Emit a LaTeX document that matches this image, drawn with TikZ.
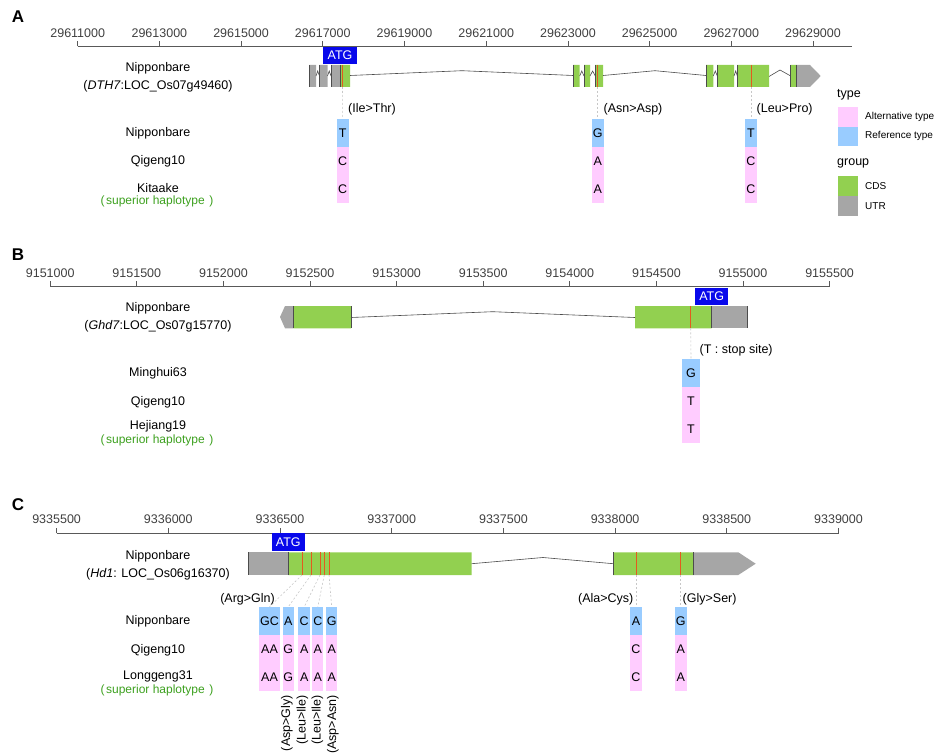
\documentclass[tikz,border=0pt]{standalone}
\usepackage{fontspec}
\setmainfont{Liberation Sans}
\usetikzlibrary{positioning}
\definecolor{cdsgreen}{RGB}{146,208,80}
\definecolor{utrgray}{RGB}{166,166,166}
\definecolor{altpink}{RGB}{255,204,255}
\definecolor{refblue}{RGB}{153,204,255}
\definecolor{snpred}{RGB}{228,90,30}
\definecolor{atgblue}{RGB}{8,8,235}
\definecolor{supgreen}{RGB}{60,160,30}
\newcommand\suphap{(\hspace{1.5pt}superior haplotype\hspace{4.5pt})}
\begin{document}
\begin{tikzpicture}[x=1pt,y=-1pt,font=\fontsize{12.5}{15}\selectfont,
    axisline/.style={black!65,line width=0.8pt},
    ticklbl/.style={text=black!75,inner sep=0,above=3pt},
    intron/.style={black!70,line width=0.6pt},
    bound/.style={black!70,line width=0.9pt},
    snp/.style={snpred,line width=0.9pt},
    guide/.style={black!22,dash pattern=on 2pt off 2pt,line width=0.6pt},
    refbox/.style={fill=refblue,minimum width=12pt,minimum height=28pt,inner sep=0},
    altbox/.style={fill=altpink,minimum width=12pt,minimum height=28pt,inner sep=0},
    atgbox/.style={fill=atgblue,text=white,minimum width=33.5pt,minimum height=17.5pt,inner sep=0},
    rowlbl/.style={inner sep=0},
    genelbl/.style={inner sep=0,align=center,font=\fontsize{12.5}{18}\selectfont},
    suplbl/.style={inner sep=0,text=supgreen,font=\fontsize{12}{14}\selectfont},
    aalbl/.style={inner sep=0},
    panel/.style={inner sep=0,font=\fontsize{17}{20}\selectfont\bfseries},
    legtitle/.style={inner sep=0,anchor=west},
    legkey/.style={minimum width=20pt,minimum height=19.5pt,inner sep=0},
    legtext/.style={inner sep=0,anchor=west,font=\fontsize{10}{12}\selectfont}]
  \useasboundingbox (0,0) rectangle (936,754);

  % panel A
  \node[panel] (A) at (18,17) {A};
  \draw[axisline] (77.7,46.3) -- (852,46.3);
  \foreach \v [count=\i from 0] in {29611000,29613000,29615000,29617000,29619000,29621000,29623000,29625000,29627000,29629000}
    \draw[axisline] (77.7+81.7*\i,46.3) -- (77.7+81.7*\i,40.7) node[ticklbl] (tA\i) {\v};
  \fill[utrgray] (309.5,65) rectangle (316,87) (319.5,65) rectangle (327.5,87) (331,65) rectangle (340,87);
  \fill[cdsgreen] (340,65) rectangle (350,87)
    (573.3,65) rectangle (579.7,87) (584,65) rectangle (590,87) (595.3,65) rectangle (603,87)
    (706,65) rectangle (713.3,87) (717.3,65) rectangle (734,87) (737.3,65) rectangle (769,87)
    (790.7,65) rectangle (796,87);
  \fill[utrgray] (796,65) -- (810,65) -- (820.7,76) -- (810,87) -- (796,87) -- cycle;
  \draw[intron] (316,76) -- (317.7,71) -- (319.5,76) (327.5,76) -- (329.2,71) -- (331,76)
    (350,75.5) -- (462,70.7) -- (573.3,75.5)
    (579.7,76) -- (581.8,71) -- (584,76) (590,76) -- (592.6,71) -- (595.3,76)
    (603,75.5) -- (655,70.7) -- (706,75.5)
    (713.3,76) -- (715.3,71) -- (717.3,76) (734,76) -- (735.7,71) -- (737.3,76)
    (769,76.5) -- (780,70) -- (790.7,76);
  \foreach \x in {309.5,319.5,331,340,573.3,584,595.3,706,717.3,737.3,790.7,796}
    \draw[bound] (\x,65) -- (\x,87);
  \foreach \x in {342.5,597.7,751}
    \draw[snp] (\x,65) -- (\x,87);
  \node[atgbox] (atgA) at (340,55.5) {ATG};
  \node[genelbl] (geneA) at (158,77) {Nipponbare\\(\textit{DTH7}:LOC\_Os07g49460)};

  \node[rowlbl] (rA1) at (158,133) {Nipponbare};
  \node[rowlbl] (rA2) at (158,161.5) {Qigeng10};
  \node[rowlbl] (rA3) at (158,188) {Kitaake};
  \node[suplbl] (rA3s) at (157,201.5) {\suphap};

  \node[refbox] (a1r) at (342.7,133) {T};
  \node[altbox] (a1q) at (342.7,161) {C};
  \node[altbox] (a1k) at (342.7,189) {C};
  \node[refbox] (a2r) at (597.7,133) {G};
  \node[altbox] (a2q) at (597.7,161) {A};
  \node[altbox] (a2k) at (597.7,189) {A};
  \node[refbox] (a3r) at (751,133) {T};
  \node[altbox] (a3q) at (751,161) {C};
  \node[altbox] (a3k) at (751,189) {C};
  \coordinate (sA1) at (342.5,87);
  \coordinate (sA2) at (597.7,87);
  \coordinate (sA3) at (751,87);
  \draw[guide] (sA1) -- (a1r.north);
  \draw[guide] (sA2) -- (a2r.north);
  \draw[guide] (sA3) -- (a3r.north);
  \node[aalbl,anchor=west] (lA1) at (348,109.5) {(Ile>Thr)};
  \node[aalbl,anchor=west] (lA2) at (603.5,109.5) {(Asn>Asp)};
  \node[aalbl,anchor=west] (lA3) at (756.5,109.5) {(Leu>Pro)};

  % legend
  \node[legtitle] (legtype) at (837,95) {type};
  \node[legkey,fill=altpink] (kalt) at (848,116.8) {};
  \node[legkey,fill=refblue,below=0pt of kalt] (kref) {};
  \node[legtext] (talt) at (865,116.8) {Alternative type};
  \node[legtext] (tref) at (865,136.3) {Reference type};
  \node[legtitle] (leggroup) at (837,163.5) {group};
  \node[legkey,fill=cdsgreen] (kcds) at (848,186.2) {};
  \node[legkey,fill=utrgray,below=0pt of kcds] (kutr) {};
  \node[legtext] (tcds) at (865,186.5) {CDS};
  \node[legtext] (tutr) at (865,206) {UTR};

  % panel B
  \node[panel] (B) at (18,255) {B};
  \draw[axisline] (50.2,286.7) -- (829.6,286.7);
  \foreach \v [count=\i from 0] in {9151000,9151500,9152000,9152500,9153000,9153500,9154000,9154500,9155000,9155500}
    \draw[axisline] (50.2+86.6*\i,286.7) -- (50.2+86.6*\i,281) node[ticklbl] (tB\i) {\v};
  \fill[utrgray] (280,317) -- (285,306) -- (293.3,306) -- (293.3,328.3) -- (285,328.3) -- cycle;
  \fill[cdsgreen] (293.3,306) rectangle (351,328.3) (635,306) rectangle (711.7,328.3);
  \fill[utrgray] (711.7,306) rectangle (747.3,328.3);
  \draw[intron] (351,317.5) -- (492.7,311.7) -- (635,317.5);
  \foreach \x in {293.3,351,711.7,747.3}
    \draw[bound] (\x,306) -- (\x,328.3);
  \draw[snp] (690.7,306) -- (690.7,328.3);
  \node[atgbox] (atgB) at (711.7,296.3) {ATG};
  \node[genelbl] (geneB) at (158,317) {Nipponbare\\(\textit{Ghd7}:LOC\_Os07g15770)};

  \node[rowlbl] (rB1) at (158,373) {Minghui63};
  \node[rowlbl] (rB2) at (158,402) {Qigeng10};
  \node[rowlbl] (rB3) at (158,426.5) {Hejiang19};
  \node[suplbl] (rB3s) at (157,440) {\suphap};

  \node[refbox,minimum width=17.5pt] (b1m) at (691,373.3) {G};
  \node[altbox,minimum width=17.5pt] (b1q) at (691,401.3) {T};
  \node[altbox,minimum width=17.5pt] (b1h) at (691,429.3) {T};
  \coordinate (sB1) at (690.7,328.3);
  \draw[guide] (sB1) -- (b1m.north);
  \node[aalbl,anchor=west] (lB1) at (699.5,350) {(T : stop site)};

  % panel C
  \node[panel] (C) at (18,505) {C};
  \draw[axisline] (56.6,533.3) -- (838.5,533.3);
  \foreach \v [count=\i from 0] in {9335500,9336000,9336500,9337000,9337500,9338000,9338500,9339000}
    \draw[axisline] (56.6+111.7*\i,533.3) -- (56.6+111.7*\i,527.5) node[ticklbl] (tC\i) {\v};
  \fill[utrgray] (248.3,552.3) rectangle (288.3,575);
  \fill[cdsgreen] (288.3,552.3) rectangle (471.7,575) (613.3,552.3) rectangle (693.3,575);
  \fill[utrgray] (693.3,552.3) -- (738.3,552.3) -- (755.7,563.7) -- (738.3,575) -- (693.3,575) -- cycle;
  \draw[intron] (471.7,563.7) -- (543,557.5) -- (613.3,563.7);
  \foreach \x in {248.3,288.3,613.3,693.3}
    \draw[bound] (\x,552.3) -- (\x,575);
  \foreach \x in {302,311,320,324.3,329,636,680.7}
    \draw[snp] (\x,552.3) -- (\x,575);
  \node[atgbox] (atgC) at (288.3,542.2) {ATG};
  \node[genelbl] (geneC) at (158,565) {Nipponbare\\(\textit{Hd1}: LOC\_Os06g16370)};

  \node[rowlbl] (rC1) at (158,621) {Nipponbare};
  \node[rowlbl] (rC2) at (158,650) {Qigeng10};
  \node[rowlbl] (rC3) at (158,676) {Longgeng31};
  \node[suplbl] (rC3s) at (157,690) {\suphap};

  \foreach \n/\x/\w/\r/\q/\l in {1/269.5/21/GC/AA/AA, 2/288.3/11.3/A/G/G, 3/304.2/11.7/C/A/A,
      4/317.8/11/C/A/A, 5/331.7/11.3/G/A/A, 6/636/12/A/C/C, 7/680.7/12/G/A/A} {
    \node[refbox,minimum width=\w pt] (c\n r) at (\x,621) {\r};
    \node[altbox,minimum width=\w pt] (c\n q) at (\x,649) {\q};
    \node[altbox,minimum width=\w pt] (c\n l) at (\x,677) {\l};
  }
  \foreach \n/\x in {1/302,2/311,3/320,4/324.3,5/329,6/636,7/680.7} {
    \coordinate (sC\n) at (\x,575);
    \draw[guide] (sC\n) -- (c\n r.north);
  }
  \node[aalbl,anchor=east] (lC1) at (275,599) {(Arg>Gln)};
  \node[aalbl,anchor=east] (lC6) at (633.5,599) {(Ala>Cys)};
  \node[aalbl,anchor=west] (lC7) at (682.5,599) {(Gly>Ser)};
  \node[aalbl,rotate=90,anchor=east] (lC2) at (287,695) {(Asp>Gly)};
  \node[aalbl,rotate=90,anchor=east] (lC3) at (302.5,695) {(Leu>Ile)};
  \node[aalbl,rotate=90,anchor=east] (lC4) at (317.5,695) {(Leu>Ile)};
  \node[aalbl,rotate=90,anchor=east] (lC5) at (333,695) {(Asp>Asn)};
\end{tikzpicture}
\end{document}
